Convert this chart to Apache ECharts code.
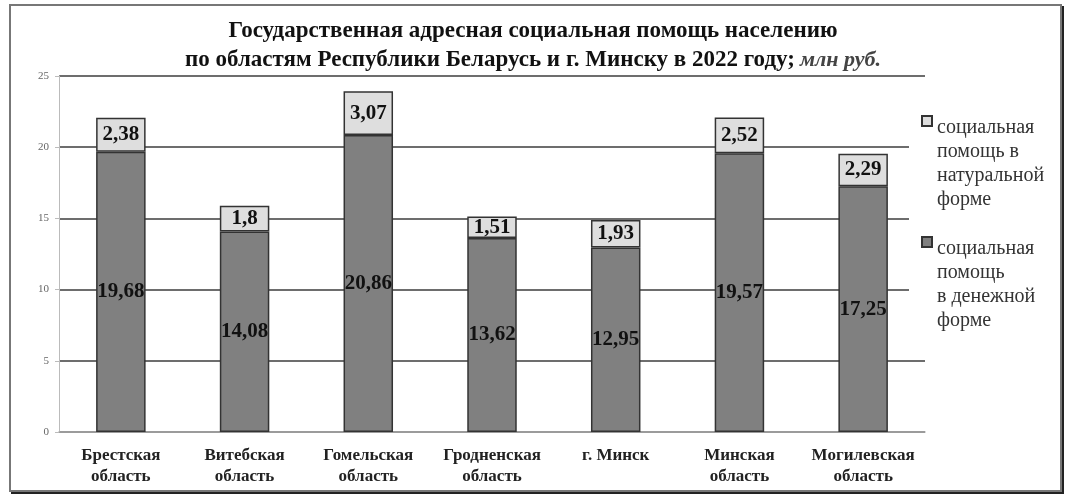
<!DOCTYPE html>
<html>
<head>
<meta charset="utf-8">
<script src="https://cdn.jsdelivr.net/npm/echarts@6/dist/echarts.min.js"></script>
<style>
  html, body { margin: 0; padding: 0; background: #fff; }
  #chart { width: 1066px; height: 498px; }
</style>
</head>
<body>
<div id="chart"></div>
<script>
// categories and values, млн руб.
const regions = [
  'Брестская\nобласть',
  'Витебская\nобласть',
  'Гомельская\nобласть',
  'Гродненская\nобласть',
  'г. Минск',
  'Минская\nобласть',
  'Могилевская\nобласть'
]
const cashAid = [19.68, 14.08, 20.86, 13.62, 12.95, 19.57, 17.25]
const inKindAid = [2.38, 1.8, 3.07, 1.51, 1.93, 2.52, 2.29]
const yTicks = { min: 0, max: 25, interval: 5 }

const cashName = 'социальная\nпомощь\nв денежной\nформе'
const inKindName = 'социальная\nпомощь в\nнатуральной\nформе'

const serif = '"Liberation Serif", "DejaVu Serif", serif'
const fmt = p => String(p.value).replace('.', ',')

const chart = echarts.init(document.getElementById('chart'))

const labelStyle = {
  show: true,
  position: 'inside',
  formatter: fmt,
  fontFamily: serif,
  fontWeight: 'bold',
  fontSize: 21,
  color: '#111'
}

const option = {
  backgroundColor: '#fff',
  animation: false,
  title: {
    left: 'center',
    top: 12,
    text: '{b|Государственная адресная социальная помощь населению}\n{b|по областям Республики Беларусь и г. Минску в 2022 году;} {i|млн руб.}',
    textStyle: {
      rich: {
        b: { fontFamily: serif, fontWeight: 'bold', fontSize: 23, color: '#111', lineHeight: 29 },
        i: { fontFamily: serif, fontStyle: 'italic', fontSize: 22, color: '#444', lineHeight: 29 }
      }
    }
  },
  legend: {
    orient: 'vertical',
    left: 909,
    top: 110,
    padding: [5, 5, 5, 12],
    backgroundColor: '#fff',
    itemWidth: 10,
    itemHeight: 96,
    itemGap: 23,
    icon: 'path://M0,0L10,0L10,10L0,10Z M0,96',
    data: [inKindName, cashName],
    textStyle: {
      fontFamily: serif,
      fontSize: 20,
      lineHeight: 24,
      color: '#333'
    }
  },
  grid: {
    left: 59,
    right: 141,
    top: 76,
    bottom: 66
  },
  xAxis: {
    type: 'category',
    data: regions,
    axisLine: { lineStyle: { color: '#aaa', width: 1.5 } },
    axisTick: { length: 4, lineStyle: { color: '#aaa' } },
    axisLabel: {
      interval: 0,
      margin: 13,
      fontFamily: serif,
      fontWeight: 'bold',
      fontSize: 17,
      lineHeight: 21,
      color: '#222'
    }
  },
  yAxis: {
    type: 'value',
    min: yTicks.min,
    max: yTicks.max,
    interval: yTicks.interval,
    axisLine: { show: true, lineStyle: { color: '#bbb', width: 1 } },
    axisTick: { show: true, length: 4, lineStyle: { color: '#bbb' } },
    axisLabel: {
      margin: 10,
      fontFamily: serif,
      fontSize: 11,
      color: '#666'
    },
    splitLine: { lineStyle: { color: '#3c3c3c', width: 1.5 } }
  },
  series: [
    {
      name: cashName,
      type: 'bar',
      stack: 'aid',
      barWidth: '40%',
      data: cashAid,
      itemStyle: { color: '#808080', borderColor: '#333', borderWidth: 1.5 },
      label: labelStyle
    },
    {
      name: inKindName,
      type: 'bar',
      stack: 'aid',
      barWidth: '40%',
      data: inKindAid,
      itemStyle: { color: '#dedede', borderColor: '#333', borderWidth: 1.5 },
      label: labelStyle
    }
  ],
  graphic: [
    {
      type: 'rect',
      shape: { x: 10, y: 5, width: 1051, height: 486 },
      style: { fill: 'none', stroke: '#777', lineWidth: 2 },
      z: 100
    },
    {
      type: 'polyline',
      shape: { points: [[11, 493], [1063, 493], [1063, 6]] },
      style: { fill: 'none', stroke: '#222', lineWidth: 2 },
      z: 100
    }
  ]
}

chart.setOption(option)
</script>
</body>
</html>
